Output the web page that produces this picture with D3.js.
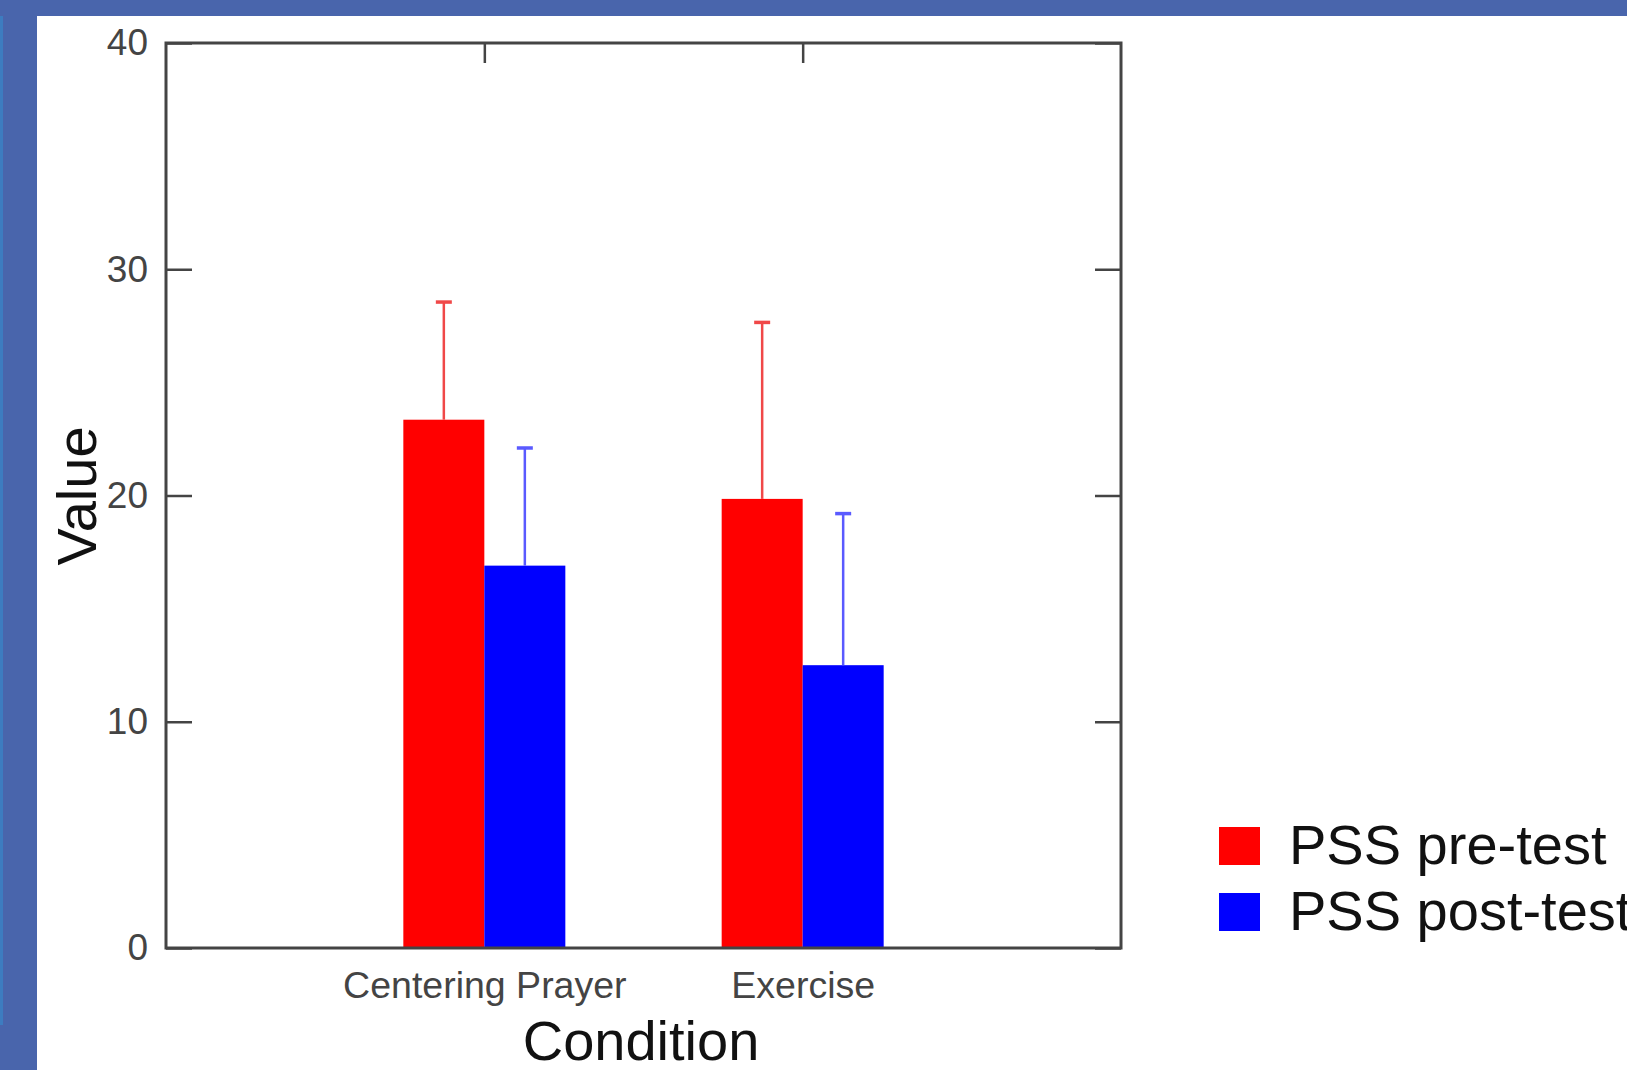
<!DOCTYPE html>
<html>
<head>
<meta charset="utf-8">
<script src="https://cdn.jsdelivr.net/npm/d3@7"></script>
<style>
  body { margin: 0; background: #4965ac; }
  svg { display: block; }
</style>
</head>
<body>
<svg id="chart" width="1627" height="1070"></svg>
<script>
// chart values
var categories = ["Centering Prayer", "Exercise"];
var seriesNames = ["PSS pre-test", "PSS post-test"];
var seriesColors = ["#ff0000", "#0000ff"];
var errColors = ["#f04848", "#5a5aff"];
var preMeans = [23.35, 19.85];
var preSD = [5.2, 7.8];
var postMeans = [16.9, 12.5];
var postSD = [5.2, 6.7];
var yTicks = [0, 10, 20, 30, 40];

var svg = d3.select("#chart");

// blue slide background + white panel
svg.append("rect").attr("width", 1627).attr("height", 1070).attr("fill", "#4965ac");
svg.append("rect").attr("x", 0).attr("y", 16).attr("width", 3).attr("height", 1009)
  .attr("fill", "#3d7cc0");
svg.append("rect").attr("x", 37).attr("y", 16).attr("width", 1590).attr("height", 1054)
  .attr("fill", "#ffffff");

// plot box (window.top is reserved, so own names here)
var plotL = 166, plotR = 1121, plotT = 43, plotB = 948;

var y = d3.scaleLinear().domain([0, 40]).range([plotB, plotT]);
var x = d3.scalePoint().domain(categories).range([plotL, plotR]).padding(1);
var inner = d3.scaleBand().domain(seriesNames).range([-81, 81]);

var rows = categories.map(function (c, i) {
  return [
    { cat: c, s: 0, mean: preMeans[i], sd: preSD[i] },
    { cat: c, s: 1, mean: postMeans[i], sd: postSD[i] }
  ];
}).flat();

// axes (inner ticks, box drawn separately)
svg.append("g")
  .attr("transform", "translate(" + plotL + ",0)")
  .call(d3.axisLeft(y).tickValues(yTicks).tickSize(-26).tickPadding(18))
  .call(function (g) { g.select(".domain").remove(); })
  .call(function (g) {
    g.selectAll("line").attr("stroke", "#444").attr("stroke-width", 2.5);
    g.selectAll("text").attr("font-family", "Liberation Sans, Arial, sans-serif")
      .attr("font-size", 37).attr("fill", "#444");
  });

svg.append("g")
  .attr("transform", "translate(" + plotR + ",0)")
  .call(d3.axisRight(y).tickValues(yTicks).tickSize(-26).tickFormat(""))
  .call(function (g) { g.select(".domain").remove(); })
  .call(function (g) { g.selectAll("line").attr("stroke", "#444").attr("stroke-width", 2.5); });

svg.append("g")
  .attr("transform", "translate(0," + plotT + ")")
  .call(d3.axisTop(x).tickSize(-20).tickFormat(""))
  .call(function (g) { g.select(".domain").remove(); })
  .call(function (g) { g.selectAll("line").attr("stroke", "#444").attr("stroke-width", 2.5); });

svg.append("g")
  .attr("transform", "translate(0," + plotB + ")")
  .call(d3.axisBottom(x).tickSize(0).tickPadding(23))
  .call(function (g) { g.select(".domain").remove(); })
  .call(function (g) {
    g.selectAll("text").attr("font-family", "Liberation Sans, Arial, sans-serif")
      .attr("font-size", 37.5).attr("fill", "#444");
  });

// bars
svg.append("g").selectAll("rect")
  .data(rows)
  .enter().append("rect")
  .attr("x", function (d) { return x(d.cat) + inner(seriesNames[d.s]); })
  .attr("y", function (d) { return y(d.mean); })
  .attr("width", inner.bandwidth())
  .attr("height", function (d) { return y(0) - y(d.mean); })
  .attr("fill", function (d) { return seriesColors[d.s]; });

// error bars (upper only)
var err = svg.append("g").selectAll("g")
  .data(rows)
  .enter().append("g")
  .attr("transform", function (d) {
    return "translate(" + (x(d.cat) + inner(seriesNames[d.s]) + inner.bandwidth() / 2) + ",0)";
  });

err.append("line")
  .attr("y1", function (d) { return y(d.mean); })
  .attr("y2", function (d) { return y(d.mean + d.sd); })
  .attr("stroke", function (d) { return errColors[d.s]; })
  .attr("stroke-width", 2.5);

err.append("line")
  .attr("x1", -8).attr("x2", 8)
  .attr("y1", function (d) { return y(d.mean + d.sd); })
  .attr("y2", function (d) { return y(d.mean + d.sd); })
  .attr("stroke", function (d) { return errColors[d.s]; })
  .attr("stroke-width", 3.5);

// plot frame
svg.append("rect")
  .attr("x", plotL).attr("y", plotT)
  .attr("width", plotR - plotL).attr("height", plotB - plotT)
  .attr("fill", "none").attr("stroke", "#444").attr("stroke-width", 3);

// axis titles
svg.append("text")
  .attr("x", 641).attr("y", 1060)
  .attr("text-anchor", "middle")
  .attr("font-family", "Liberation Sans, Arial, sans-serif")
  .attr("font-size", 56).attr("fill", "#111")
  .text("Condition");

svg.append("text")
  .attr("transform", "translate(96,496) rotate(-90)")
  .attr("text-anchor", "middle")
  .attr("font-family", "Liberation Sans, Arial, sans-serif")
  .attr("font-size", 56).attr("fill", "#111")
  .text("Value");

// legend
var legend = svg.append("g").selectAll("g")
  .data(seriesNames)
  .enter().append("g")
  .attr("transform", function (d, i) { return "translate(1219," + (827 + i * 66) + ")"; });

legend.append("rect")
  .attr("width", 41).attr("height", 38)
  .attr("fill", function (d, i) { return seriesColors[i]; });

legend.append("text")
  .attr("x", 70).attr("y", 37)
  .attr("font-family", "Liberation Sans, Arial, sans-serif")
  .attr("font-size", 56).attr("fill", "#111")
  .text(function (d) { return d; });
</script>
</body>
</html>
